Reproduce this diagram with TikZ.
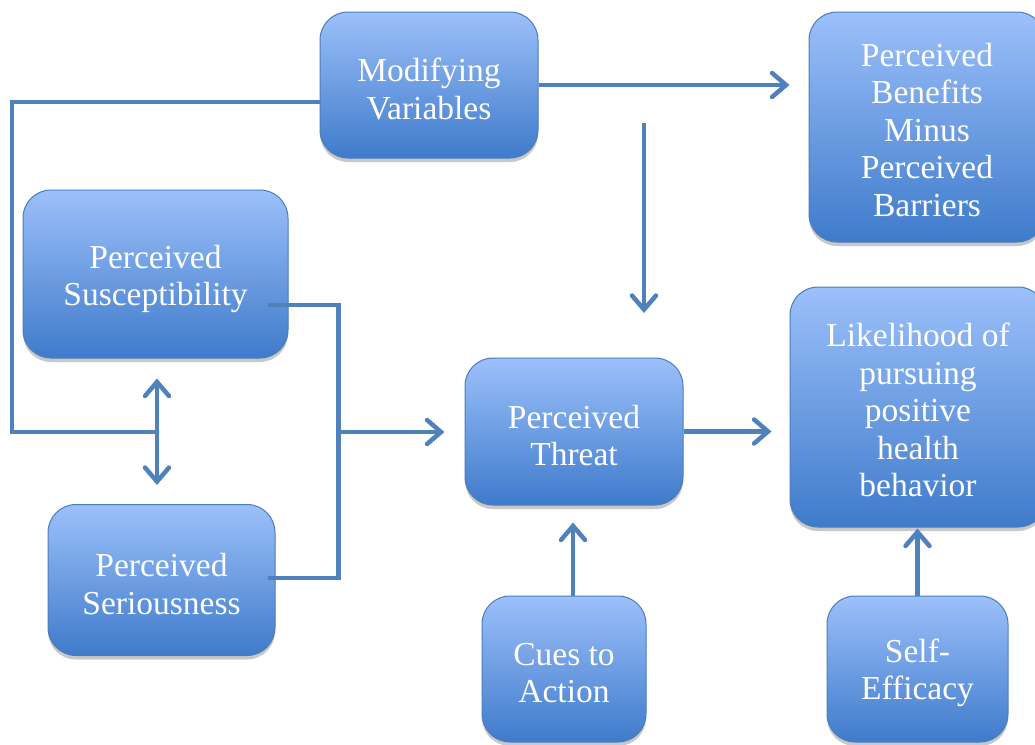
\documentclass[tikz,border=0pt]{standalone}
\usepackage{fontspec}
\setmainfont{Liberation Serif}
\usetikzlibrary{arrows.meta,shadows,calc}
\definecolor{linec}{HTML}{4F81BD}
\definecolor{boxtop}{HTML}{9CC0FA}
\definecolor{boxbot}{HTML}{3F7BCB}
\definecolor{boxedge}{HTML}{4A7EBB}
\tikzset{
  box/.style={rectangle, rounded corners=28pt, top color=boxtop, bottom color=boxbot,
    draw=boxedge, line width=1pt, inner sep=0pt,
    drop shadow={shadow xshift=0pt, shadow yshift=-4pt, opacity=0.3, fill=black!70}},
  txt/.style={text=white, align=center, inner sep=0pt,
    font=\fontsize{33.5}{37.5}\selectfont},
  conn/.style={draw=linec, line width=4.5pt},
  arr/.style={conn, -{Straight Barb[length=14pt, width=24pt, line cap=round]}},
}
\begin{document}
\begin{tikzpicture}[x=1pt, y=-1pt]
\useasboundingbox (0,0) rectangle (1035,744);
\clip (0,0) rectangle (1035,744);
\fill[white] (0,0) rectangle (1035,744);

\node[box, minimum width=218pt, minimum height=146pt] (mv) at (429,85) {};
\node[box, minimum width=236pt, minimum height=230pt] (pb) at (927,127) {};
\node[box, minimum width=265pt, minimum height=168pt] (ps) at (155.5,274) {};
\node[box, minimum width=227pt, minimum height=151pt] (pse) at (161.5,580) {};
\node[box, minimum width=218pt, minimum height=147pt] (pt) at (574,431.5) {};
\node[box, minimum width=256pt, minimum height=240pt] (lk) at (918,407) {};
\node[box, minimum width=164pt, minimum height=146pt] (ca) at (564,669) {};
\node[box, minimum width=181pt, minimum height=146pt] (se) at (917.5,669) {};

\node[txt] (mvt) at ([yshift=-4pt]mv.center) {Modifying\\Variables};
\node[txt] (pbt) at ([yshift=-3pt]pb.center) {Perceived\\Benefits\\Minus\\Perceived\\Barriers};
\node[txt] (pst) at ([yshift=-5pt]ps.center) {Perceived\\Susceptibility};
\node[txt] (pset) at ([yshift=-4pt]pse.center) {Perceived\\Seriousness};
\node[txt] (ptt) at ([yshift=-4pt]pt.center) {Perceived\\Threat};
\node[txt] (lkt) at ([yshift=-3pt]lk.center) {Likelihood of\\pursuing\\positive\\health\\behavior};
\node[txt] (cat) at ([yshift=-4pt]ca.center) {Cues to\\Action};
\node[txt] (set) at ([yshift=-4pt]se.center) {Self-\\Efficacy};

\coordinate (jn) at (157,432);
\coordinate (br) at (338,432);
\coordinate (vs) at (644,123);
\coordinate (ve) at (644,313);

% Modifying -> Benefits
\draw[arr, shorten >=19pt] (mv.east) -- (mv.east -| pb.west);
% free vertical arrow
\draw[arr] (vs) -- (ve);
% left loop
\draw[conn] ([yshift=-17pt]mv.west) -| (12,432) -- (jn);
% double arrow
\draw[conn, {Straight Barb[length=14pt, width=24pt, line cap=round]}-{Straight Barb[length=14pt, width=24pt, line cap=round]}, shorten <=20pt, shorten >=19pt] (jn |- ps.south) -- (jn |- pse.north);
% bracket
\draw[conn] ($(ps.east)+(-21,31)$) -| ($(pse.east)+(63,-2)$) -- ($(pse.east)+(-8,-2)$);
\draw[arr, shorten >=20pt] (br) -- (br -| pt.west);
% Threat -> Likelihood
\draw[arr, shorten >=18pt] (pt.east) -- (pt.east -| lk.west);
% Cues -> Threat
\draw[arr, shorten >=17pt] ([xshift=9pt]ca.north) -- ([xshift=9pt]ca.north |- pt.south);
% Self-Efficacy -> Likelihood
\draw[arr, shorten >=1pt] (se.north) -- (se.north |- lk.south);
\end{tikzpicture}
\end{document}
